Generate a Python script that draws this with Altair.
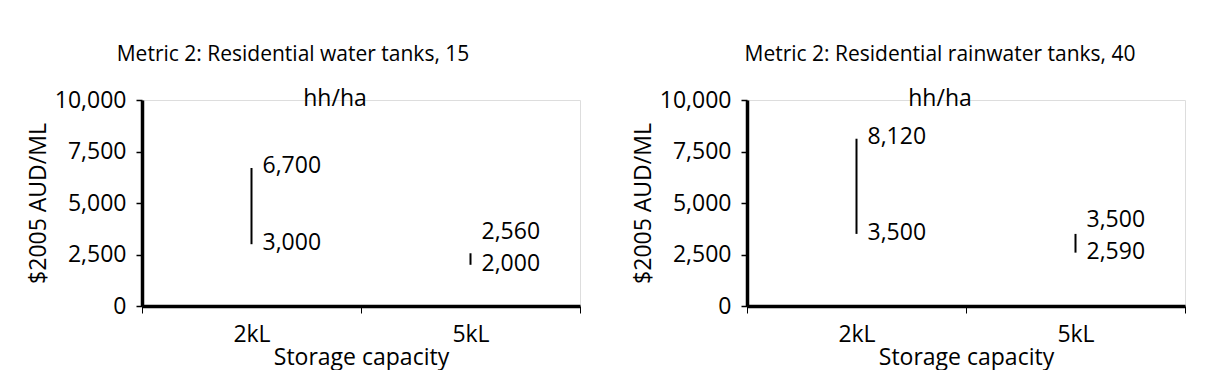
import altair as alt
import pandas as pd

categories = ["2kL", "5kL"]
low_15 = [3000, 2000]
high_15 = [6700, 2560]
low_40 = [3500, 2590]
high_40 = [8120, 3500]
titles = ["Metric 2: Residential water tanks, 15", "Metric 2: Residential rainwater tanks, 40"]
title_shift = [-68, -26]
second_line = "hh/ha"
y_ticks = [0, 2500, 5000, 7500, 10000]
x_title = "Storage capacity"
y_title = "$2005 AUD/ML"

FONT = "Open Sans"
FS = 23


def panel(low, high, title, dx):
    df = pd.DataFrame({"cap": categories, "low": low, "high": high})
    x = alt.X(
        "cap:N", sort=categories, title=x_title,
        scale=alt.Scale(paddingInner=0, paddingOuter=0),
        axis=alt.Axis(labelAngle=0, tickBand="extent", tickSize=7, tickWidth=1,
                      tickColor="black", domainWidth=3.5, domainColor="black",
                      labelFontSize=FS, labelFont=FONT, labelColor="black",
                      labelPadding=10, titleFontSize=FS, titleFont=FONT,
                      titleFontWeight="normal", titleColor="black",
                      titleY=58, titleBaseline="alphabetic"),
    )
    y = alt.Y(
        "low:Q", title=y_title,
        scale=alt.Scale(domain=[0, 10000], nice=False),
        axis=alt.Axis(values=y_ticks, format=",.0f", grid=False, tickSize=6,
                      tickWidth=1.5, tickColor="black", domainWidth=3.5,
                      domainColor="black", labelFontSize=FS, labelFont=FONT,
                      labelColor="black", labelPadding=10, titleFontSize=FS,
                      titleFont=FONT, titleFontWeight="normal",
                      titleColor="black", titlePadding=4),
    )
    base = alt.Chart(df)
    rule = base.mark_rule(color="black", strokeWidth=2).encode(x=x, y=y, y2="high:Q")
    upper = base.transform_calculate(ly="max(datum.high, datum.low + 1500)").mark_text(
        align="left", baseline="alphabetic", dx=11, dy=5, fontSize=FS, font=FONT, color="black"
    ).encode(x=alt.X("cap:N", sort=categories), y=alt.Y("ly:Q"),
             text=alt.Text("high:Q", format=","))
    lower = base.mark_text(
        align="left", baseline="alphabetic", dx=11, dy=6, fontSize=FS, font=FONT, color="black"
    ).encode(x=alt.X("cap:N", sort=categories), y=alt.Y("low:Q"),
             text=alt.Text("low:Q", format=","))
    line2 = alt.Chart(pd.DataFrame({"t": [second_line]})).mark_text(
        align="center", baseline="alphabetic", fontSize=FS, font=FONT, color="black"
    ).encode(x=alt.value(193), y=alt.value(6), text="t:N")
    return alt.layer(rule, upper, lower, line2).properties(
        width=438, height=206,
        title=alt.TitleParams(title, fontSize=21, font=FONT, fontWeight="normal",
                              color="black", anchor="middle", frame="group",
                              dx=dx, offset=23),
    )


chart = alt.hconcat(
    panel(low_15, high_15, titles[0], title_shift[0]),
    panel(low_40, high_40, titles[1], title_shift[1]),
    spacing=50,
).properties(
    padding={"left": 18, "top": 35, "right": 0, "bottom": 0}
).configure_view(stroke=None).configure(background="white")

chart.save("out.html", embed_options={"renderer": "svg", "actions": False})
